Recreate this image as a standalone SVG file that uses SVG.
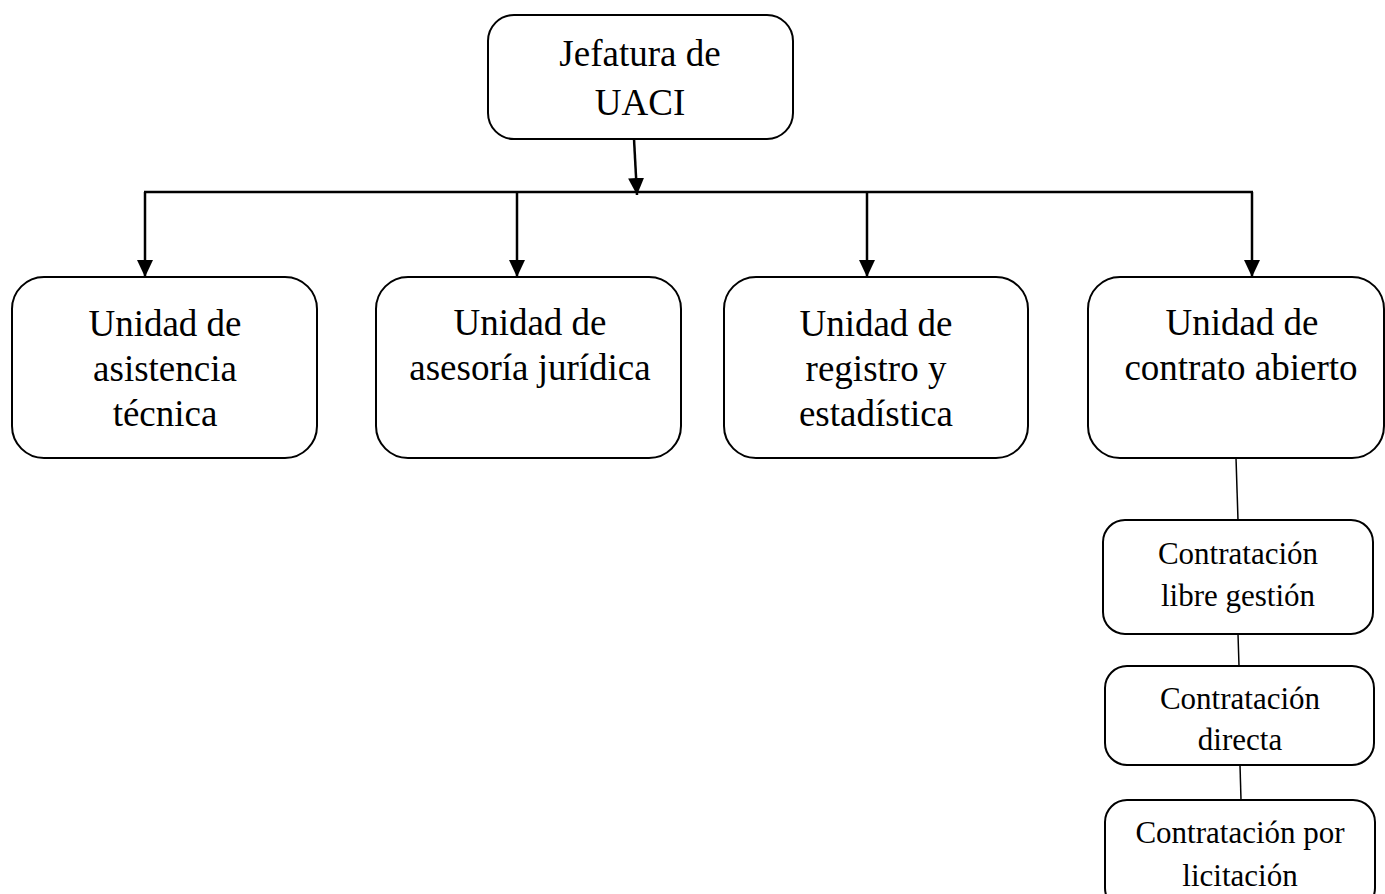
<svg xmlns="http://www.w3.org/2000/svg" width="1385" height="894" viewBox="0 0 1385 894">
<style>
.box{fill:#fff;stroke:#000;stroke-width:2}
.t{font-family:"Liberation Serif","Times New Roman",serif;font-size:37px;fill:#000;text-anchor:middle}
.s{font-family:"Liberation Serif","Times New Roman",serif;font-size:31px;fill:#000;text-anchor:middle}
.c{fill:none;stroke:#000;stroke-width:2.5}
.l{fill:none;stroke:#000;stroke-width:1.5}
</style>
<defs>
<marker id="arr" markerUnits="userSpaceOnUse" markerWidth="17" markerHeight="16" viewBox="0 0 17 16" refX="17" refY="8" orient="auto">
<path d="M0,0 L17,8 L0,16 z" fill="#000"/>
</marker>
</defs>
<rect width="1385" height="894" fill="#fff"/>
<g id="connectors">
<line class="c" x1="634" y1="139" x2="637" y2="195" marker-end="url(#arr)"/>
<line class="c" x1="144" y1="192" x2="1253" y2="192"/>
<line class="c" x1="145" y1="192" x2="145" y2="277" marker-end="url(#arr)"/>
<line class="c" x1="517" y1="192" x2="517" y2="277" marker-end="url(#arr)"/>
<line class="c" x1="867" y1="192" x2="867" y2="277" marker-end="url(#arr)"/>
<line class="c" x1="1252" y1="192" x2="1252" y2="277" marker-end="url(#arr)"/>
<line class="l" x1="1236" y1="458" x2="1238" y2="520"/>
<line class="l" x1="1238" y1="634" x2="1239" y2="666"/>
<line class="l" x1="1240" y1="765" x2="1241" y2="800"/>
</g>
<g id="jefatura">
<rect class="box" x="488" y="15" width="305" height="124" rx="26"/>
<text class="t" x="640" y="66">Jefatura de</text>
<text class="t" x="640" y="115">UACI</text>
</g>
<g id="asistencia">
<rect class="box" x="12" y="277" width="305" height="181" rx="32"/>
<text class="t" x="165" y="336">Unidad de</text>
<text class="t" x="165" y="381">asistencia</text>
<text class="t" x="165" y="426">técnica</text>
</g>
<g id="asesoria">
<rect class="box" x="376" y="277" width="305" height="181" rx="32"/>
<text class="t" x="530" y="335">Unidad de</text>
<text class="t" x="530" y="380">asesoría jurídica</text>
</g>
<g id="registro">
<rect class="box" x="724" y="277" width="304" height="181" rx="32"/>
<text class="t" x="876" y="336">Unidad de</text>
<text class="t" x="876" y="381">registro y</text>
<text class="t" x="876" y="426">estadística</text>
</g>
<g id="contrato">
<rect class="box" x="1088" y="277" width="296" height="181" rx="32"/>
<text class="t" x="1242" y="335">Unidad de</text>
<text class="t" x="1241" y="380">contrato abierto</text>
</g>
<g id="libre">
<rect class="box" x="1103" y="520" width="270" height="114" rx="22"/>
<text class="s" x="1238" y="564">Contratación</text>
<text class="s" x="1238" y="606">libre gestión</text>
</g>
<g id="directa">
<rect class="box" x="1105" y="666" width="269" height="99" rx="22"/>
<text class="s" x="1240" y="709">Contratación</text>
<text class="s" x="1240" y="750">directa</text>
</g>
<g id="licitacion">
<rect class="box" x="1105" y="800" width="270" height="110" rx="22"/>
<text class="s" x="1240" y="843">Contratación por</text>
<text class="s" x="1240" y="886">licitación</text>
</g>
</svg>
